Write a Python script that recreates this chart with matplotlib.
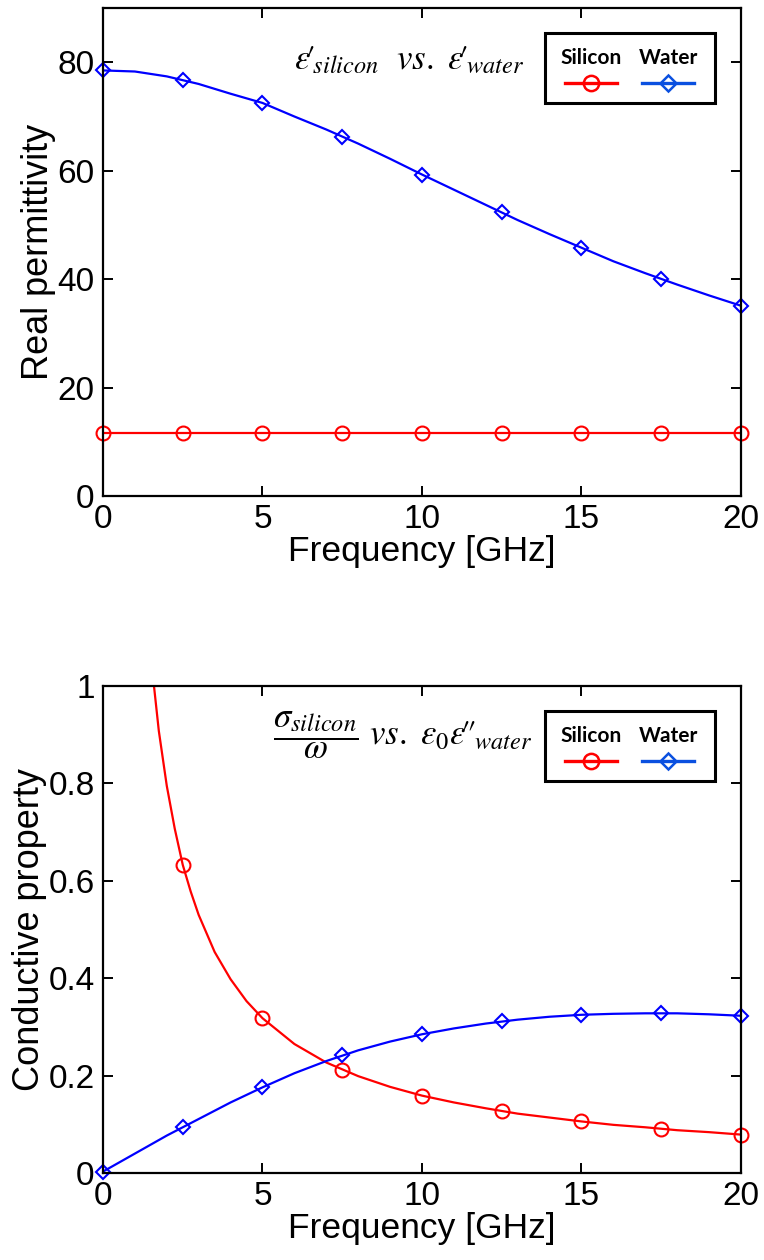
import matplotlib
matplotlib.use("Agg")
import matplotlib.pyplot as plt
from matplotlib.patches import Rectangle
from matplotlib.lines import Line2D

plt.rcParams['font.family'] = ['Liberation Sans', 'DejaVu Sans']
plt.rcParams['mathtext.fontset'] = 'stix'

# ---------------- data ----------------
freq_markers = [0, 2.5, 5, 7.5, 10, 12.5, 15, 17.5, 20]

# Real permittivity
water_real_markers = [78.5, 76.8, 72.5, 66.3, 59.3, 52.3, 45.8, 40.0, 35.1]
silicon_real_markers = [11.7, 11.7, 11.7, 11.7, 11.7, 11.7, 11.7, 11.7, 11.7]
freq_line = [0, 1, 2, 3, 4, 5, 6, 7, 8, 9, 10, 11, 12, 13, 14, 15, 16, 17, 18, 19, 20]
water_real_line = [78.5, 78.3, 77.4, 76.0, 74.2, 72.5, 70.0, 67.6, 65.0, 62.2, 59.3,
                   56.5, 53.7, 50.9, 48.3, 45.8, 43.3, 41.1, 39.0, 37.0, 35.1]
silicon_real_line = [11.7] * 21

# Conductive property
water_cond_markers = [0.003, 0.094, 0.176, 0.243, 0.285, 0.312, 0.325, 0.328, 0.323]
silicon_cond_markers = [None, 0.633, 0.318, 0.212, 0.159, 0.127, 0.106, 0.091, 0.079]
water_cond_line = [0.003, 0.040, 0.077, 0.111, 0.145, 0.176, 0.205, 0.230, 0.252, 0.270, 0.285,
                   0.297, 0.307, 0.315, 0.321, 0.325, 0.327, 0.328, 0.328, 0.326, 0.323]
freq_si_line = [1.5, 1.75, 2, 2.25, 2.5, 2.75, 3, 3.5, 4, 4.5, 5, 6, 7, 8, 9, 10, 11, 12, 13, 14,
                15, 16, 17, 18, 19, 20]
silicon_cond_line = [1.06, 0.908, 0.795, 0.707, 0.633, 0.578, 0.530, 0.454, 0.398, 0.353, 0.318,
                     0.265, 0.227, 0.199, 0.177, 0.159, 0.145, 0.133, 0.122, 0.114, 0.106, 0.099,
                     0.094, 0.088, 0.084, 0.079]

xticks = [0, 5, 10, 15, 20]
yticks_top = [0, 20, 40, 60, 80]
yticks_bot = [0, 0.2, 0.4, 0.6, 0.8, 1]
ytick_labels_bot = ['0', '0.2', '0.4', '0.6', '0.8', '1']

RED = '#ff0000'
BLUE = '#0000ff'
LEG_BLUE = '#0a50e0'

fig = plt.figure(figsize=(7.64, 12.6), dpi=100)
ax1 = fig.add_axes([0.1348, 0.6063, 0.8351, 0.3873])
ax2 = fig.add_axes([0.1348, 0.0690, 0.8351, 0.3865])


def style(ax):
    for s in ax.spines.values():
        s.set_linewidth(1.6)
    ax.tick_params(direction='in', length=7, width=1.4, top=True, right=True,
                   labelsize=24, pad=6)
    ax.set_xlim(0, 20)
    ax.set_xticks(xticks)
    ax.set_xlabel('Frequency [GHz]', fontsize=25.5, labelpad=0)


def legend_box(ax):
    ax.add_patch(Rectangle((0.693, 0.805), 0.266, 0.143, transform=ax.transAxes,
                           fill=False, lw=2.2, edgecolor='black', zorder=5))
    for xc, lab, col, mk in [(0.765, 'Silicon', RED, 'o'), (0.886, 'Water', LEG_BLUE, 'D')]:
        ax.text(xc, 0.897, lab, transform=ax.transAxes, ha='center', va='center',
                fontsize=15, fontweight='bold', family=['Lato', 'DejaVu Sans'], zorder=6)
        ax.add_line(Line2D([xc - 0.041, xc + 0.041], [0.847, 0.847], transform=ax.transAxes,
                           color=col, lw=2.4, marker=None, zorder=6))
        ax.add_line(Line2D([xc], [0.847], transform=ax.transAxes, color=col, lw=0,
                           marker=mk, markersize=11 if mk == 'o' else 8.5, markerfacecolor='none',
                           markeredgewidth=1.8, zorder=6))


# ---------- top panel ----------
ax1.plot(freq_line, water_real_line, color=BLUE, lw=1.6)
ax1.plot(freq_markers, water_real_markers, ls='none', marker='D', markersize=7.5,
         markerfacecolor='none', markeredgecolor=BLUE, markeredgewidth=1.5, clip_on=False)
ax1.plot(freq_line, silicon_real_line, color=RED, lw=1.6)
ax1.plot(freq_markers, silicon_real_markers, ls='none', marker='o', markersize=10,
         markerfacecolor='none', markeredgecolor=RED, markeredgewidth=1.5, clip_on=False)
ax1.set_ylim(0, 90)
ax1.set_yticks(yticks_top)
ax1.set_ylabel('Real permittivity', fontsize=26, labelpad=1)
style(ax1)
ax1.text(0.48, 0.895, r"$\varepsilon\!\prime_{\!silicon}\ \ vs.\ \varepsilon\!\prime_{\!water}$",
         transform=ax1.transAxes, ha='center', va='center', fontsize=25)
legend_box(ax1)

# ---------- bottom panel ----------
ax2.plot(freq_si_line, silicon_cond_line, color=RED, lw=1.6)
ax2.plot(freq_markers[1:], silicon_cond_markers[1:], ls='none', marker='o', markersize=10,
         markerfacecolor='none', markeredgecolor=RED, markeredgewidth=1.5, clip_on=False)
ax2.plot(freq_line, water_cond_line, color=BLUE, lw=1.6)
ax2.plot(freq_markers, water_cond_markers, ls='none', marker='D', markersize=7.5,
         markerfacecolor='none', markeredgecolor=BLUE, markeredgewidth=1.5, clip_on=False)
ax2.set_ylim(0, 1)
ax2.set_yticks(yticks_bot)
ax2.set_yticklabels(ytick_labels_bot)
ax2.set_ylabel('Conductive property', fontsize=26, labelpad=1)
style(ax2)
ax2.text(0.47, 0.9, r"$\dfrac{\sigma_{silicon}}{\omega}\ vs.\ \varepsilon_0\varepsilon\!\prime\!\prime_{\!water}$",
         transform=ax2.transAxes, ha='center', va='center', fontsize=25)
legend_box(ax2)

fig.savefig('out.png', dpi=100)
